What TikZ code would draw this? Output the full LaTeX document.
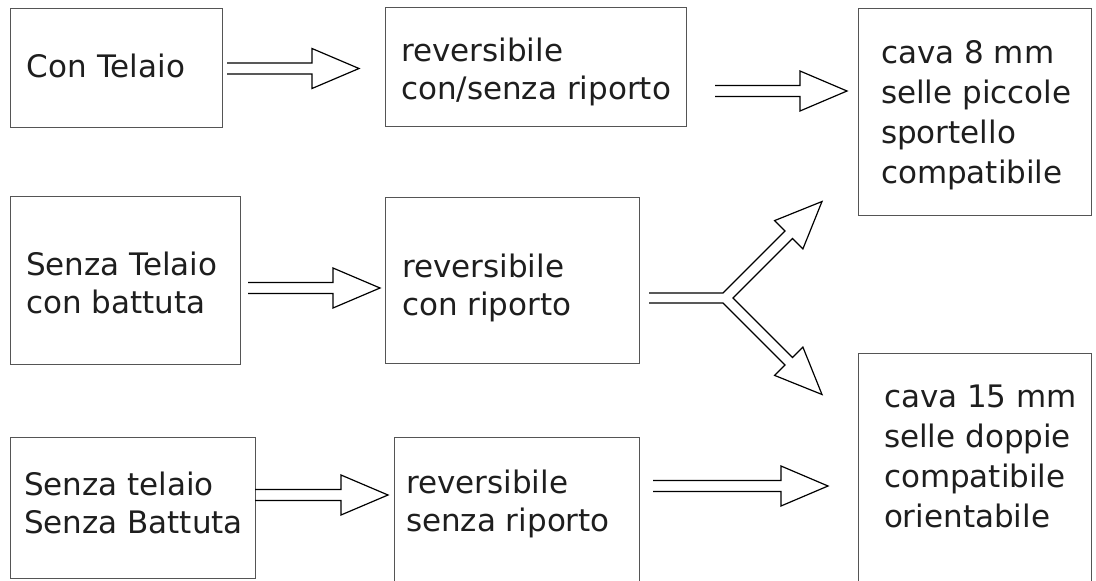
\documentclass[tikz,border=0pt]{standalone}
\usepackage{fontspec}
\setmainfont{DejaVu Sans}
\usetikzlibrary{calc}
\definecolor{boxgray}{HTML}{555555}
\definecolor{txtgray}{HTML}{1E1E1E}
\newcommand{\mytopstrut}{\rule{0pt}{25pt}}
\newcommand{\hollowarrow}[2]{%
  \draw[arrowline] let \p1=(#1), \p2=(#2) in
    (\x1,\y1+5.5) -- (\x2-47,\y1+5.5) -- (\x2-47,\y1+20) -- (\x2,\y1)
    -- (\x2-47,\y1-20) -- (\x2-47,\y1-5.5) -- (\x1,\y1-5.5);}
\tikzset{
  box/.style={draw=boxgray, line width=1pt, inner sep=0pt, outer sep=0pt, anchor=north west},
  txt/.style={inner sep=0pt, outer sep=0pt, anchor=north west, align=left, text=txtgray,
              font=\fontsize{31pt}{38pt}\selectfont},
  txtfour/.style={txt, font=\fontsize{31pt}{40pt}\selectfont},
  arrowline/.style={draw=black, line width=1.2pt, line join=miter}
}
\begin{document}
\begin{tikzpicture}[x=1pt,y=-1pt]
\useasboundingbox (0,0) rectangle (1096,581);
\clip (0,0) rectangle (1096,581);
% boxes
\node[box, minimum width=212pt, minimum height=119pt] (b1) at (10,8) {};
\node[box, minimum width=301pt, minimum height=119pt] (b2) at (385,7) {};
\node[box, minimum width=233pt, minimum height=207pt] (b3) at (858,8) {};
\node[box, minimum width=230pt, minimum height=168pt] (b4) at (10,196) {};
\node[box, minimum width=254pt, minimum height=166pt] (b5) at (385,197) {};
\node[box, minimum width=245pt, minimum height=141pt] (b6) at (10,437) {};
\node[box, minimum width=245pt, minimum height=160pt] (b7) at (394,437) {};
\node[box, minimum width=233pt, minimum height=240pt] (b8) at (858,353) {};
% texts
\node[txt] (t1) at (27,52) {\mytopstrut Con Telaio};
\node[txt] (t2) at (401,36) {\mytopstrut reversibile\\con/senza riporto};
\node[txtfour] (t3) at (881,38) {\mytopstrut cava 8 mm\\selle piccole\\sportello\\compatibile};
\node[txt] (t4) at (26,250) {\mytopstrut Senza Telaio\\con battuta};
\node[txt] (t5) at (402,252) {\mytopstrut reversibile\\con riporto};
\node[txt] (t6) at (24,470) {\mytopstrut Senza telaio\\Senza Battuta};
\node[txt] (t7) at (406,468) {\mytopstrut reversibile\\senza riporto};
\node[txtfour] (t8) at (884,382) {\mytopstrut cava 15 mm\\selle doppie\\compatibile\\orientabile};
% arrow end points
\coordinate (a1s) at (227,68.5);  \coordinate (a1e) at (359,68.5);
\coordinate (a2s) at (715,91);    \coordinate (a2e) at (847,91);
\coordinate (a3s) at (248,288);   \coordinate (a3e) at (380,288);
\coordinate (a4s) at (255,495);   \coordinate (a4e) at (388,495);
\coordinate (a5s) at (653,486);   \coordinate (a5e) at (828,486);
\hollowarrow{a1s}{a1e}
\hollowarrow{a2s}{a2e}
\hollowarrow{a3s}{a3e}
\hollowarrow{a4s}{a4e}
\hollowarrow{a5s}{a5e}
% fork arrow
\coordinate (J) at (728,298);
\draw[arrowline, shift={(J)}]
  (-79,-5) -- (-5,-5) -- (57,-67) -- (46.6,-77.4) -- (94,-96.5) -- (74.9,-49.1)
  -- (64.5,-59.5) -- (5,0) -- (64.5,59.5) -- (74.9,49.1) -- (94,96.5)
  -- (46.6,77.4) -- (57,67) -- (-5,5) -- (-79,5);
\end{tikzpicture}
\end{document}
